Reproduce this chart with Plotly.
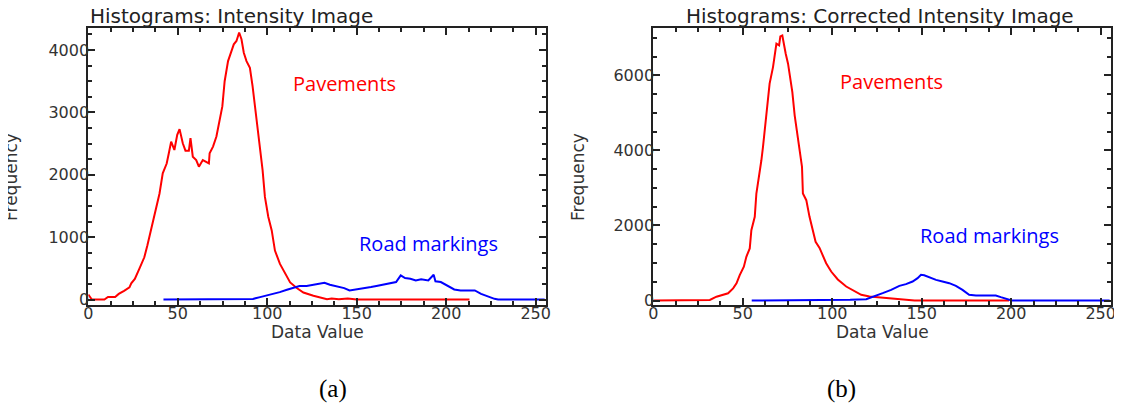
import plotly.graph_objects as go

# ---------------- data ----------------
# (a) Intensity image
a_pav_x = [0, 1, 2, 9, 11, 15, 17, 20, 23, 24, 26, 28.5, 31.3, 33, 35, 36.9, 38.8, 39.8, 41.6, 43.8,
           45, 46.3, 48.1, 49.7, 51, 52.8, 54.3, 56.2, 57.1, 58.4, 60.3, 61.8, 64, 65.9, 67.4, 67.8,
           69.7, 71.6, 73.4, 74.9, 76.2, 78.1, 80, 81.3, 82.8, 84.3, 85.6, 86.9, 88.4, 90.3, 91.8,
           93.1, 95, 96, 97.4, 98.7, 100.6, 102.5, 104.3, 107.1, 110, 112.8, 116.5, 120.2, 125.8,
           133.4, 136, 140, 145, 150, 213]
a_pav_y = [80, 30, 0, 0, 40, 40, 90, 140, 195, 260, 330, 490, 677, 866, 1108, 1323, 1539, 1700, 2023, 2180,
           2345, 2532, 2398, 2640, 2732, 2506, 2387, 2387, 2587, 2290, 2237, 2129, 2237, 2210, 2183, 2345,
           2452, 2613, 2910, 3097, 3500, 3823, 3984, 4092, 4146, 4281, 4173, 3958, 3823, 3716, 3420,
           3097, 2613, 2345, 2076, 1645, 1323, 1108, 785, 571, 410, 274, 184, 113, 60,
           6, 15, 5, 15, 0, 0]

a_road_x = [42, 90, 92, 96, 100, 103, 107, 111, 115, 118, 122, 126, 130, 132, 135, 139, 143, 146, 150,
            154, 158, 161, 165, 169, 172, 174.6, 177, 180, 183, 186, 190, 193, 194, 197, 201, 204.5, 208,
            212, 216, 219.5, 223, 227, 229, 255]
a_road_y = [0, 0, 10, 38, 65, 91, 118, 156, 183, 215, 215, 237, 253, 269, 237, 215, 183, 145, 161,
            172, 199, 215, 237, 253, 280, 387, 344, 334, 307, 323, 307, 398, 291, 280, 215, 161, 145,
            145, 145, 91, 48, 11, 0, 0]

# (b) Corrected intensity image
b_pav_x = [0, 30.7, 31.6, 35.3, 38.1, 41.8, 44.6, 46.5, 48.3, 50.6, 52, 53.9, 54.8, 56.7, 57.6, 59.1,
           60.4, 61.3, 62.8, 64.1, 65, 66.9, 67.8, 68.8, 70.3, 71, 72.1, 73, 74, 75.3, 76.6, 77.7, 79,
           80.3, 81.8, 83.1, 83.6, 85.5, 87.3, 89.2, 90.7, 92.9, 94.8, 96.6, 99.4, 103.1, 107.8, 112.4,
           116.2, 120.8, 126.4, 132.9, 137.5, 143.1, 146, 198.8]
b_pav_y = [0, 0, 15, 101, 146, 191, 324, 457, 678, 899, 1165, 1388, 1875, 2229, 2851, 3293,
           3737, 4091, 4801, 5333, 5778, 6219, 6576, 6842, 6800, 7036, 7062, 6796, 6576, 6310, 5865, 5554, 4934,
           4535, 4003, 3559, 2851, 2673, 2229, 1875, 1564, 1400, 1210, 993, 772, 560, 373, 240,
           151, 106, 80, 53, 35, 18, 0, 0]

b_road_x = [55, 109.6, 110, 119, 123.6, 128.2, 132.9, 137.5, 141.2, 144.9, 147.7, 149.6, 151.4, 154.2,
            158, 161.6, 165.4, 169.1, 172.8, 176.5, 180.3, 185.8, 191.4, 194.2, 197.9, 200.3, 255]
b_road_y = [0, 0, 18, 35, 106, 195, 284, 390, 435, 506, 594, 683, 674, 621,
            550, 506, 461, 390, 284, 151, 133, 133, 133, 89, 35, 0, 0]

x_ticks = [0, 50, 100, 150, 200, 250]
a_y_ticks = [0, 1000, 2000, 3000, 4000]
b_y_ticks = [0, 2000, 4000, 6000]

titles = ["Histograms: Intensity Image", "Histograms: Corrected Intensity Image"]
x_title = "Data Value"
y_title = "Frequency"
series_names = ["Pavements", "Road markings"]
panel_labels = ["(a)", "(b)"]

# ---------------- layout helpers ----------------
# the page body has an 8px default margin, so the figure is drawn 8px smaller and
# page-pixel positions are converted into figure-paper fractions
OFF = 8
W, H = 1122 - OFF, 408 - OFF
def px(x):
    return (x - OFF) / W
def py(y):
    return 1 - (y - OFF) / H

RED = "#ff0000"
BLUE = "#0000ff"
AX = "#222222"
TICKFONT = dict(family="DejaVu Sans", size=16, color="#333333")

fig = go.Figure()
fig.add_trace(go.Scatter(x=a_pav_x, y=a_pav_y, mode="lines", line=dict(color=RED, width=2),
                         xaxis="x", yaxis="y", name=series_names[0]))
fig.add_trace(go.Scatter(x=a_road_x, y=a_road_y, mode="lines", line=dict(color=BLUE, width=2),
                         xaxis="x", yaxis="y", name=series_names[1]))
fig.add_trace(go.Scatter(x=b_pav_x, y=b_pav_y, mode="lines", line=dict(color=RED, width=2),
                         xaxis="x2", yaxis="y2", name=series_names[0]))
fig.add_trace(go.Scatter(x=b_road_x, y=b_road_y, mode="lines", line=dict(color=BLUE, width=2),
                         xaxis="x2", yaxis="y2", name=series_names[1]))

common = dict(showline=True, linecolor=AX, linewidth=2, mirror="ticks", ticks="inside",
              ticklen=7, tickwidth=1.5, tickcolor=AX, showgrid=False, zeroline=False,
              tickfont=TICKFONT, fixedrange=True, automargin=False)
xminor = dict(dtick=12.5, tick0=0, ticklen=4, ticks="inside", tickcolor=AX)

ydom = [py(305), py(27.8)]
fig.update_layout(
    width=W, height=H, margin=dict(l=0, r=0, t=0, b=0, pad=0),
    paper_bgcolor="white", plot_bgcolor="white", showlegend=False,
    xaxis=dict(domain=[px(88.3), px(545.5)], range=[0, 255.5], anchor="y",
               tickvals=x_ticks, minor=xminor, ticklabelstandoff=-7, **common),
    yaxis=dict(domain=ydom, range=[-88, 4357], anchor="x",
               tickvals=a_y_ticks, minor=dict(dtick=250, tick0=0, ticklen=4, ticks="inside", tickcolor=AX),
               ticklabelstandoff=-6, **common),
    xaxis2=dict(domain=[px(653.3), px(1110.5)], range=[0, 255.5], anchor="y2",
                tickvals=x_ticks, minor=xminor, ticklabelstandoff=-7, **common),
    yaxis2=dict(domain=ydom, range=[-120, 7266], anchor="x2",
                tickvals=b_y_ticks, minor=dict(dtick=500, tick0=0, ticklen=4, ticks="inside", tickcolor=AX),
                ticklabelstandoff=-6, **common),
)

ann = []
TFONT = dict(family="DejaVu Sans", size=20, color="#222222")
ann.append(dict(text=titles[0], x=px(88), y=py(16.5), xanchor="left", yanchor="middle", font=TFONT))
ann.append(dict(text=titles[1], x=px(880), y=py(16.5), xanchor="center", yanchor="middle", font=TFONT))
LFONT = dict(family="DejaVu Sans", size=17, color="#333333")
for cx in (317, 882):
    ann.append(dict(text=x_title, x=px(cx), y=py(332), xanchor="center", yanchor="middle", font=LFONT))
for cx in (11, 578):
    ann.append(dict(text=y_title, x=px(cx), y=py(177), xanchor="center", yanchor="middle",
                    textangle=-90, font=LFONT))
SFONT = "Open Sans"
ann.append(dict(text=series_names[0], x=px(344), y=py(84), xanchor="center", yanchor="middle",
                font=dict(family=SFONT, size=20, color=RED)))
ann.append(dict(text=series_names[1], x=px(428), y=py(243), xanchor="center", yanchor="middle",
                font=dict(family=SFONT, size=20, color=BLUE)))
ann.append(dict(text=series_names[0], x=px(891), y=py(81), xanchor="center", yanchor="middle",
                font=dict(family=SFONT, size=20, color=RED)))
ann.append(dict(text=series_names[1], x=px(989), y=py(236), xanchor="center", yanchor="middle",
                font=dict(family=SFONT, size=20, color=BLUE)))
PFONT = dict(family="Liberation Serif", size=25, color="black")
ann.append(dict(text=panel_labels[0], x=px(333), y=py(389), xanchor="center", yanchor="middle", font=PFONT))
ann.append(dict(text=panel_labels[1], x=px(841), y=py(389), xanchor="center", yanchor="middle", font=PFONT))
for a in ann:
    a.update(xref="paper", yref="paper", showarrow=False)
fig.update_layout(annotations=ann)

fig.write_html("out.html")
